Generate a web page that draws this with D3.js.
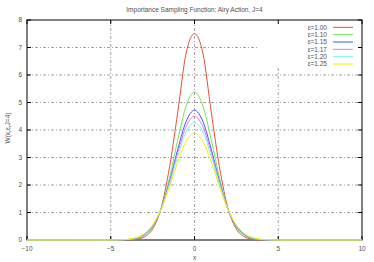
<!DOCTYPE html>
<html>
<head>
<meta charset="utf-8">
<script src="https://cdn.jsdelivr.net/npm/d3@7"></script>
<style>
  body { margin: 0; background: #fff; }
  svg text { font-family: "Liberation Sans", Arial, sans-serif; fill: #505050; }
</style>
</head>
<body>
<div id="chart"></div>
<script>
// x sample points
const xs = [-10, -5, -4.5, -4, -3.5, -3, -2.5, -2, -1.5, -1, -0.5, 0, 0.5, 1, 1.5, 2, 2.5, 3, 3.5, 4, 4.5, 5, 10];

// W(x) for each epsilon
const w100 = [0, 0, 0, 0.005, 0.025, 0.11, 0.40, 1.15, 2.62, 4.65, 6.8, 7.5, 6.8, 4.65, 2.62, 1.15, 0.40, 0.11, 0.025, 0.005, 0, 0, 0];
const w110 = [0, 0, 0.002, 0.01, 0.045, 0.16, 0.47, 1.13, 2.24, 3.64, 4.88, 5.38, 4.88, 3.64, 2.24, 1.13, 0.47, 0.16, 0.045, 0.01, 0.002, 0, 0];
const w115 = [0, 0, 0.003, 0.015, 0.058, 0.19, 0.50, 1.12, 2.10, 3.30, 4.31, 4.72, 4.31, 3.30, 2.10, 1.12, 0.50, 0.19, 0.058, 0.015, 0.003, 0, 0];
const w117 = [0, 0, 0.004, 0.017, 0.063, 0.20, 0.51, 1.12, 2.06, 3.18, 4.12, 4.50, 4.12, 3.18, 2.06, 1.12, 0.51, 0.20, 0.063, 0.017, 0.004, 0, 0];
const w120 = [0, 0, 0.005, 0.02, 0.07, 0.21, 0.53, 1.12, 2.01, 3.05, 3.93, 4.27, 3.93, 3.05, 2.01, 1.12, 0.53, 0.21, 0.07, 0.02, 0.005, 0, 0];
const w125 = [0, 0.001, 0.007, 0.026, 0.084, 0.23, 0.55, 1.11, 1.92, 2.84, 3.59, 3.88, 3.59, 2.84, 1.92, 1.11, 0.55, 0.23, 0.084, 0.026, 0.007, 0.001, 0];

const labels = ["ε=1.00", "ε=1.10", "ε=1.15", "ε=1.17", "ε=1.20", "ε=1.25"];
const colors = ["#e65038", "#78e458", "#3a58ff", "#e478f2", "#78f2f2", "#f2f000"];
const seriesVals = [w100, w110, w115, w117, w120, w125];

const xTicks = [-10, -5, 0, 5, 10];
const yTicks = [0, 1, 2, 3, 4, 5, 6, 7, 8];

const width = 374, height = 262;
const margin = { left: 27, right: 12, top: 20, bottom: 22 };

const svg = d3.select('#chart').append('svg')
    .attr('width', width)
    .attr('height', height);

const x = d3.scaleLinear().domain([-10, 10]).range([margin.left, width - margin.right]);
const y = d3.scaleLinear().domain([0, 8]).range([height - margin.bottom, margin.top]);

// key box area knocks out grid lines
const keyLeft = 257, keyBottom = 68;

// grid
const grid = svg.append('g')
    .attr('stroke', '#888')
    .attr('stroke-width', 0.8)
    .attr('stroke-dasharray', '3,2,1,2');
xTicks.slice(1, -1).forEach(t => {
    const top = x(t) > keyLeft ? keyBottom : margin.top;
    grid.append('line')
        .attr('x1', x(t)).attr('x2', x(t))
        .attr('y1', top).attr('y2', y(0));
});
yTicks.slice(1, -1).forEach(t => {
    const right = y(t) < keyBottom ? keyLeft : x(10);
    grid.append('line')
        .attr('x1', x(-10)).attr('x2', right)
        .attr('y1', y(t)).attr('y2', y(t));
});

// border
svg.append('rect')
    .attr('x', x(-10)).attr('y', y(8))
    .attr('width', x(10) - x(-10)).attr('height', y(0) - y(8))
    .attr('fill', 'none').attr('stroke', '#000').attr('stroke-width', 1);

// ticks (inward, mirrored)
const tk = svg.append('g').attr('stroke', '#000').attr('stroke-width', 1);
xTicks.forEach(t => {
    tk.append('line').attr('x1', x(t)).attr('x2', x(t)).attr('y1', y(0)).attr('y2', y(0) - 4);
    tk.append('line').attr('x1', x(t)).attr('x2', x(t)).attr('y1', y(8)).attr('y2', y(8) + 4);
});
yTicks.forEach(t => {
    tk.append('line').attr('x1', x(-10)).attr('x2', x(-10) + 4).attr('y1', y(t)).attr('y2', y(t));
    tk.append('line').attr('x1', x(10)).attr('x2', x(10) - 4).attr('y1', y(t)).attr('y2', y(t));
});

// tick labels
svg.append('g').selectAll('text')
    .data(xTicks)
    .join('text')
    .attr('x', d => x(d))
    .attr('y', 251)
    .attr('text-anchor', 'middle')
    .attr('font-size', 6.5)
    .text(d => d < 0 ? '\u2212' + Math.abs(d) : d);
svg.append('g').selectAll('text')
    .data(yTicks)
    .join('text')
    .attr('x', 22)
    .attr('y', d => y(d) + 2.3)
    .attr('text-anchor', 'end')
    .attr('font-size', 6.5)
    .text(d => d);

// curves
const line = d3.line()
    .x(d => x(d[0]))
    .y(d => y(d[1]))
    .curve(d3.curveMonotoneX);
seriesVals.forEach((vals, i) => {
    svg.append('path')
        .datum(xs.map((xv, j) => [xv, vals[j]]))
        .attr('fill', 'none')
        .attr('stroke', colors[i])
        .attr('stroke-width', 1)
        .attr('d', line);
});

// legend
const key = svg.append('g');
labels.forEach((lab, i) => {
    const ky = 27.3 + i * 7.35;
    key.append('text')
        .attr('x', 327)
        .attr('y', ky + 2.3)
        .attr('text-anchor', 'end')
        .attr('font-size', 6.5)
        .text(lab);
    key.append('line')
        .attr('x1', 333).attr('x2', 353)
        .attr('y1', ky).attr('y2', ky)
        .attr('stroke', colors[i])
        .attr('stroke-width', 1);
});

// titles
svg.append('text')
    .attr('x', 194.5).attr('y', 12)
    .attr('text-anchor', 'middle')
    .attr('font-size', 6.5)
    .text('Importance Sampling Function: Airy Action, J=4');
svg.append('text')
    .attr('x', 194.5).attr('y', 260)
    .attr('text-anchor', 'middle')
    .attr('font-size', 6.5)
    .text('x');
svg.append('text')
    .attr('transform', 'translate(10,128) rotate(-90)')
    .attr('text-anchor', 'middle')
    .attr('font-size', 6.5)
    .text('W(x,ε,J=4)');
</script>
</body>
</html>
